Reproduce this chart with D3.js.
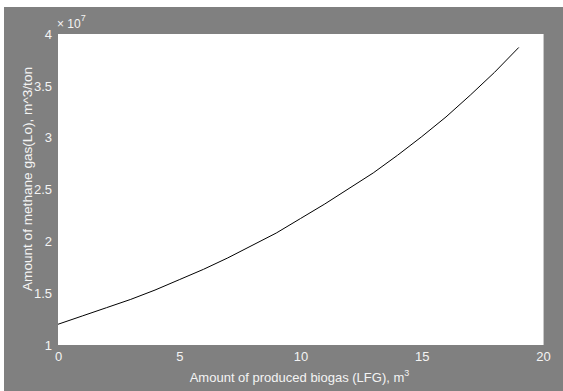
<!DOCTYPE html>
<html>
<head>
<meta charset="utf-8">
<script src="https://cdn.jsdelivr.net/npm/d3@7"></script>
<style>
  html, body { margin: 0; padding: 0; background: #ffffff; }
  svg { display: block; }
  text { font-family: "Liberation Sans", Arial, sans-serif; fill: #f4f4f4; }
</style>
</head>
<body>
<svg id="chart" width="563" height="391"></svg>
<script>
// Produced biogas (m^3) against methane generation potential (x 10^7 m^3/ton)
const biogas  = [0, 1, 2, 3, 4, 5, 6, 7, 8, 9, 10, 11, 12, 13, 14, 15, 16, 17, 18, 19];
const methane = [1.20, 1.28, 1.36, 1.44, 1.53, 1.63, 1.73, 1.84, 1.96, 2.08,
                 2.22, 2.36, 2.51, 2.66, 2.83, 3.01, 3.20, 3.41, 3.63, 3.87];
const xTicks = [0, 5, 10, 15, 20];
const yTicks = [1, 1.5, 2, 2.5, 3, 3.5, 4];
const xTitle = "Amount of produced biogas (LFG), m";
const yTitle = "Amount of methane gas(Lo), m^3/ton";

const svg = d3.select("#chart");
const W = 563, H = 391;
const plot = { left: 58, top: 34, right: 543, bottom: 345 };

// figure background
svg.append("rect").attr("x", 4).attr("y", 7).attr("width", W - 4).attr("height", H - 7)
  .attr("fill", "#808080");

const x = d3.scaleLinear().domain([0, 20]).range([plot.left, plot.right]);
const y = d3.scaleLinear().domain([1, 4]).range([plot.bottom, plot.top]);

// axes area
svg.append("rect")
  .attr("x", plot.left).attr("y", plot.top)
  .attr("width", plot.right - plot.left).attr("height", plot.bottom - plot.top)
  .attr("fill", "#ffffff");
svg.append("line")
  .attr("x1", plot.right + 0.5).attr("x2", plot.right + 0.5)
  .attr("y1", plot.top).attr("y2", plot.bottom)
  .attr("stroke", "#c8c8c8").attr("stroke-width", 1);

// x axis
const xAxis = d3.axisBottom(x).tickValues(xTicks).tickSize(0).tickPadding(7)
  .tickFormat(d3.format("d"));
const gx = svg.append("g").attr("transform", `translate(0,${plot.bottom})`).call(xAxis);
gx.select(".domain").remove();
gx.selectAll("text").attr("font-size", 13).attr("fill", "#f4f4f4")
  .attr("font-family", "Liberation Sans, Arial, sans-serif");

// y axis
const yAxis = d3.axisLeft(y).tickValues(yTicks).tickSize(0).tickPadding(6)
  .tickFormat(d => d3.format("")(d));
const gy = svg.append("g").attr("transform", `translate(${plot.left},0)`).call(yAxis);
gy.select(".domain").remove();
gy.selectAll("text").attr("font-size", 13).attr("fill", "#f4f4f4")
  .attr("font-family", "Liberation Sans, Arial, sans-serif");

// exponent marker
const expo = svg.append("text").attr("x", 57).attr("y", 28).attr("font-size", 12);
expo.append("tspan").text("\u00d7 10");
expo.append("tspan").attr("dy", -7).attr("font-size", 9).text("7");

// curve
const line = d3.line().x((d, i) => x(biogas[i])).y(d => y(d));
svg.append("path").datum(methane)
  .attr("d", line)
  .attr("fill", "none").attr("stroke", "#000000").attr("stroke-width", 1);

// axis titles
const xt = svg.append("text").attr("x", (plot.left + plot.right) / 2 - 1).attr("y", 382)
  .attr("text-anchor", "middle").attr("font-size", 13);
xt.append("tspan").text(xTitle);
xt.append("tspan").attr("dy", -6).attr("font-size", 9).text("3");

svg.append("text")
  .attr("transform", `translate(32,179) rotate(-90)`)
  .attr("text-anchor", "middle").attr("font-size", 13.6)
  .text(yTitle);
</script>
</body>
</html>
